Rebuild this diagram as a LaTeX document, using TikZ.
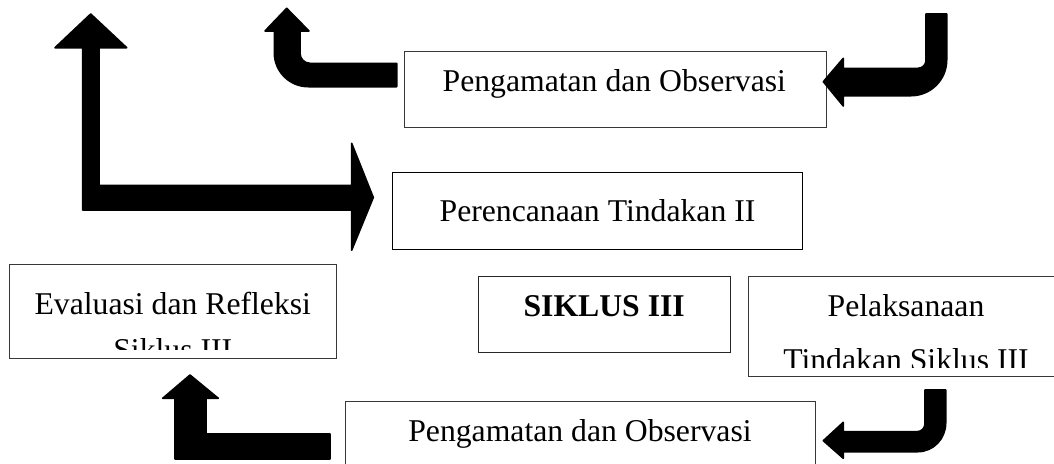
\documentclass[tikz,border=0pt]{standalone}
\usepackage{fontspec}
\setmainfont{Liberation Serif}
\begin{document}
\begin{tikzpicture}[x=1pt,y=-1pt,
  box/.style={draw=black!78, line width=1pt, inner sep=0pt, rectangle},
  txt/.style={inner sep=0pt, anchor=base, font=\fontsize{31.7}{38}\selectfont},
  blockarrow/.style={fill=black, draw=black, line width=1.6pt, line join=round}]
\useasboundingbox (0,0) rectangle (1054,463);
% boxes
\node[box, minimum width=421.6pt, minimum height=76pt] (obs1) at (615.5,89) {};
\node[box, draw=black, line width=1.4pt, minimum width=410.4pt, minimum height=77.2pt] (plan) at (597.5,210.9) {};
\node[box, draw=black!85, minimum width=251.7pt, minimum height=75.6pt] (siklus) at (604.15,314.5) {};
\node[box, minimum width=315.5pt, minimum height=100pt] (pelak) at (906.25,326.7) {};
\node[box, minimum width=327.7pt, minimum height=94.4pt] (eval) at (172.85,311.5) {};
\node[box, minimum width=470.3pt, minimum height=90pt] (obs2) at (580.15,446.7) {};
% texts
\node[txt] (t1) at (614.3,91) {Pengamatan dan Observasi};
\node[txt] (t2) at (597.5,221.7) {Perencanaan Tindakan II};
\node[txt, font=\fontsize{31.7}{38}\selectfont\bfseries] (t3) at (604.2,316.7) {SIKLUS III};
\node[txt] (t4a) at (906,316.7) {Pelaksanaan};
\begin{scope}
  \clip (748.5,276.7) rectangle (1064,367.3);
  \node[txt] (t4b) at (906,370.7) {Tindakan Siklus III};
\end{scope}
\node[txt] (t5a) at (172.8,314) {Evaluasi dan Refleksi};
\begin{scope}
  \clip (9,264.3) rectangle (336.7,349.3);
  \node[txt] (t5b) at (172.8,360) {Siklus III};
\end{scope}
\node[txt] (t6) at (580,441) {Pengamatan dan Observasi};
% big L arrow
\path[blockarrow] (351.7,210) -- (82.7,210) -- (82.7,47.7) -- (55,47.7) -- (90.7,14)
  -- (126.7,47.7) -- (99,47.7) -- (99,185.5) -- (351.7,185.5) -- (351.7,143.3)
  -- (373.3,197.5) -- (351.7,250.2) -- cycle;
% small top arrow
\path[blockarrow] (396.7,63.3) -- (310,63.3) .. controls (304.5,63.3) and (300,58.8) .. (300,53.3)
  -- (300,31) -- (309,31) -- (286.7,8.3) -- (265,31) -- (274.3,31) -- (274.3,52.7)
  .. controls (274.3,71.5) and (289.5,86.7) .. (308.3,86.7) -- (396.7,86.7) -- cycle;
% top J arrow
\path[blockarrow] (926,14) -- (946.7,14) -- (946.7,60)
  .. controls (946.7,79.7) and (930.7,95.7) .. (911,95.7) -- (843.3,95.7) -- (843.3,106)
  -- (823.3,81.7) -- (843.3,58.3) -- (843.3,68.3) -- (918,68.3)
  .. controls (922.4,68.3) and (926,64.7) .. (926,60.3) -- cycle;
% lower J arrow
\path[blockarrow] (925,390) -- (945.7,390) -- (945.7,423)
  .. controls (945.7,438.7) and (933.4,451.7) .. (917.7,451.7) -- (843.3,451.7) -- (843.3,458.3)
  -- (823.3,440.7) -- (843.3,422.3) -- (843.3,431.7) -- (917,431.7)
  .. controls (921.4,431.7) and (925,428.1) .. (925,423.7) -- cycle;
% bottom-left arrow
\path[blockarrow] (330,434) -- (206,434) -- (206,398.3) -- (218.3,398.3) -- (190,375)
  -- (162.7,398.3) -- (175,398.3) -- (175,459) -- (330,459) -- cycle;
\end{tikzpicture}
\end{document}
